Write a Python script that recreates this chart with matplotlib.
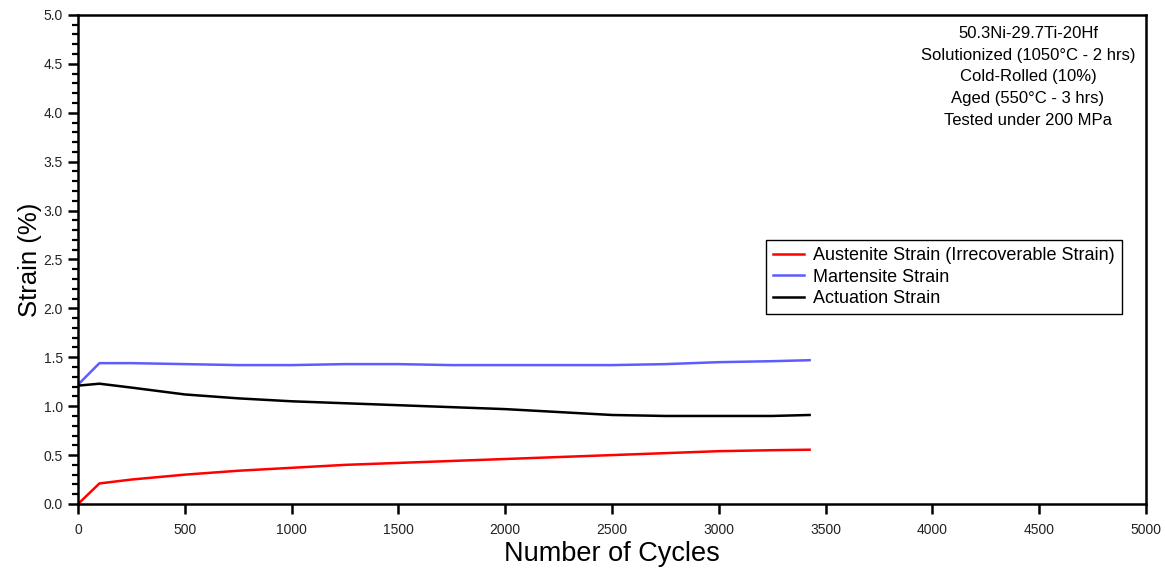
import matplotlib
matplotlib.use('Agg')
import matplotlib.pyplot as plt
from matplotlib.ticker import MultipleLocator

plt.rcParams['font.family'] = ['Liberation Sans', 'DejaVu Sans']

# cycle counts and strain values (%)
cycles = [0, 100, 250, 500, 750, 1000, 1250, 1500, 1750, 2000, 2250, 2500, 2750, 3000, 3250, 3425]
austenite = [0.00, 0.21, 0.25, 0.30, 0.34, 0.37, 0.40, 0.42, 0.44, 0.46, 0.48, 0.50, 0.52, 0.54, 0.55, 0.555]
martensite = [1.22, 1.44, 1.44, 1.43, 1.42, 1.42, 1.43, 1.43, 1.42, 1.42, 1.42, 1.42, 1.43, 1.45, 1.46, 1.47]
actuation = [1.21, 1.23, 1.19, 1.12, 1.08, 1.05, 1.03, 1.01, 0.99, 0.97, 0.94, 0.91, 0.90, 0.90, 0.90, 0.91]

labels = ['Austenite Strain (Irrecoverable Strain)', 'Martensite Strain', 'Actuation Strain']
colors = ['#ff0000', '#5c5cff', '#000000']

info_lines = ['50.3Ni-29.7Ti-20Hf',
              'Solutionized (1050°C - 2 hrs)',
              'Cold-Rolled (10%)',
              'Aged (550°C - 3 hrs)',
              'Tested under 200 MPa']

fig = plt.figure(figsize=(11.65, 5.7), dpi=100)
ax = fig.add_axes([0.067, 0.1158, 0.9167, 0.858])

for series, label, color in zip([austenite, martensite, actuation], labels, colors):
    ax.plot(cycles, series, color=color, lw=1.8, label=label)

ax.set_xlim(0, 5000)
ax.set_ylim(0, 5.0)
ax.xaxis.set_major_locator(MultipleLocator(500))
ax.yaxis.set_major_locator(MultipleLocator(0.5))
ax.yaxis.set_minor_locator(MultipleLocator(0.1))
ax.yaxis.set_major_formatter(plt.FormatStrFormatter('%.1f'))

for side in ax.spines.values():
    side.set_linewidth(1.8)
ax.tick_params(axis='both', which='major', direction='out', length=7.5, width=1.8,
               labelsize=10, labelcolor='#222222')
ax.tick_params(axis='y', which='minor', direction='out', length=4.5, width=1.6)
ax.tick_params(axis='x', pad=6)

ax.set_xlabel('Number of Cycles', fontsize=19.5, labelpad=3)
ax.set_ylabel('Strain (%)', fontsize=18.5, labelpad=1)

# specimen description, top right
ax.text(0.8895, 0.977, '\n'.join(info_lines), transform=ax.transAxes,
        ha='center', va='top', fontsize=12, linespacing=1.55)

leg = ax.legend(loc='upper right', bbox_to_anchor=(0.9775, 0.54), fontsize=13,
                frameon=True, fancybox=False, edgecolor='black', framealpha=1,
                handlelength=1.7, handletextpad=0.5, borderpad=0.4,
                labelspacing=0.25, borderaxespad=0)
leg.get_frame().set_linewidth(1.0)

fig.savefig('out.png', dpi=100)
